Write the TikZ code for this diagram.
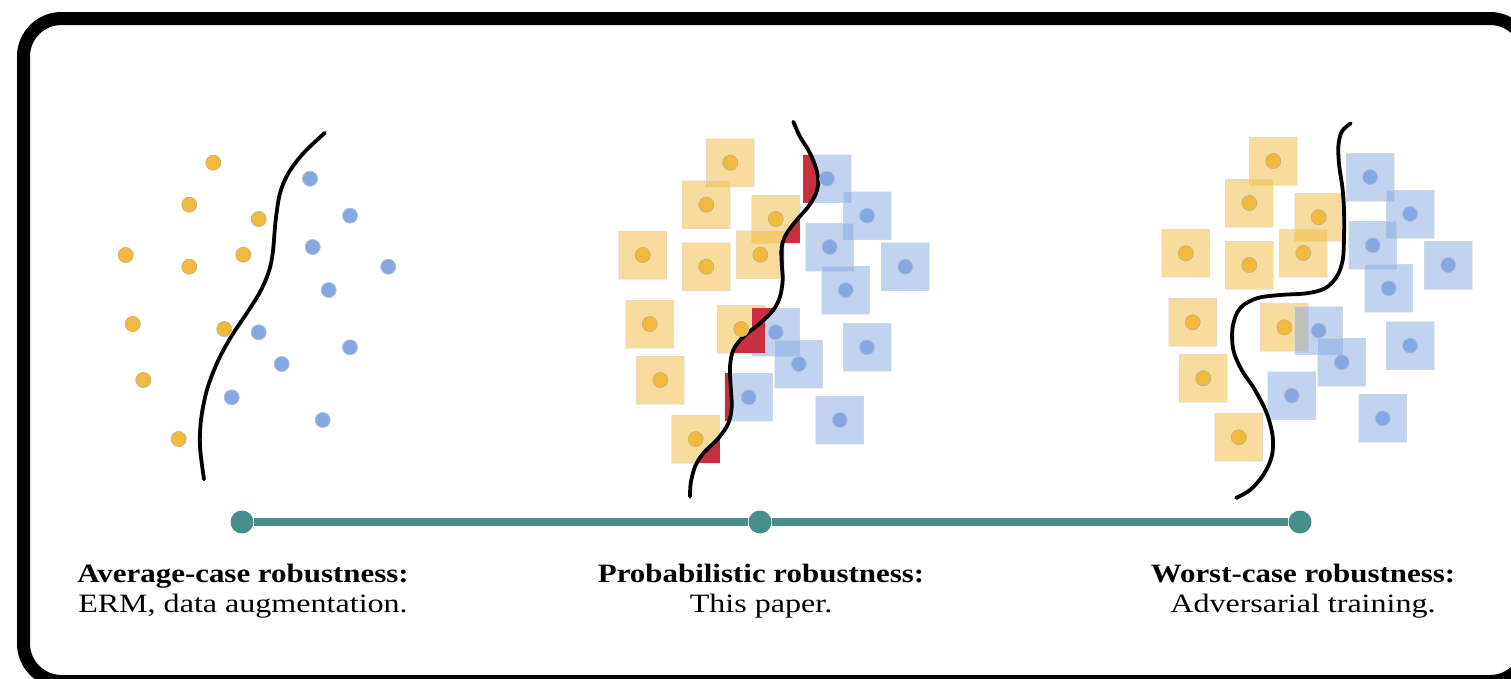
\documentclass[tikz,border=0pt]{standalone}
\usepackage{fontspec}
\setmainfont{Liberation Serif}
\newfontfamily\headfont{Liberation Serif}[FakeStretch=1.167]
\newfontfamily\bodyfont{Liberation Serif}[FakeStretch=1.21]
\definecolor{dotorange}{RGB}{242,186,60}
\definecolor{dotblue}{RGB}{134,168,226}
\definecolor{rimorange}{RGB}{205,178,125}
\definecolor{rimblue}{RGB}{175,190,215}
\definecolor{advred}{RGB}{200,48,64}
\definecolor{tealline}{RGB}{69,142,138}

% sample points of the two classes (first panel, pixel-like units)
\newcommand\orangepts{213.3/162.7, 189.3/204.7, 258.7/219, 125.7/255, 243.3/254.7,
  189.3/266.7, 132.7/324, 224.3/329, 143.3/380, 178.7/439}
\newcommand\bluepts{310/178.7, 350/215.7, 312.7/247, 388.3/266.7, 328.7/290,
  258.7/332.3, 350/347.3, 281.7/364, 231.7/397.3, 322.7/420}

% decision boundaries
\newcommand\curveA{plot[smooth,tension=0.55] coordinates {(325,132.7) (303.3,153.3)
  (288.3,173.3) (280,193.3) (275.7,220) (272.7,253.3) (268.3,273.3) (259.3,293.3)
  (246.7,313.3) (233.3,333.3) (221.7,353.3) (212.7,373.3) (206,393.3) (201,420)
  (200,446.7) (204,479.3)}}
\newcommand\curveB{plot[smooth,tension=0.55] coordinates {(793.3,121.7) (800,136.7)
  (808.3,150) (815,165) (818.3,180) (816,193.3) (808.3,206.7) (796.7,220)
  (786.7,233.3) (781.7,246.7) (781.7,263.3) (782.7,280) (780,296.7) (773.3,310)
  (760,323.3) (743.3,336.7) (733.3,350) (730,366.7) (730.7,386.7) (731.7,406.7)
  (728.3,423.3) (718.3,438.3) (703.3,453.3) (695,466.7) (690.7,483.3) (690,496.7)}}
\newcommand\curveC{plot[smooth,tension=0.55] coordinates {(1350.7,123.3) (1341.7,131.7)
  (1338.3,146.7) (1339.3,166.7) (1342.3,186.7) (1344,210) (1344,236.7) (1342.7,260)
  (1336.7,276.7) (1325,288.3) (1306.7,293.3) (1280,295) (1256.7,298.3) (1240,308.3)
  (1232.7,326.7) (1233.3,350) (1241.7,370) (1255,390) (1266.7,413.3) (1272.7,436.7)
  (1271.7,456.7) (1263.3,475) (1250,490) (1236,498)}}

\begin{document}
\begin{tikzpicture}[x=1pt,y=-1pt,
  frame/.style={draw=black,line width=13pt,rounded corners=38pt},
  boundary/.style={draw=black,line width=3.8pt,line cap=round},
  ptorange/.style={fill=dotorange,draw=rimorange,line width=0.8pt},
  ptblue/.style={fill=dotblue,draw=rimblue,line width=0.8pt},
  boxorange/.style={fill=dotorange,fill opacity=0.5,draw=black!15,draw opacity=0.5,line width=0.8pt},
  boxblue/.style={fill=dotblue,fill opacity=0.5,draw=black!15,draw opacity=0.5,line width=0.8pt},
  tdot/.style={circle,fill=tealline,inner sep=0pt,minimum size=23pt},
  tline/.style={draw=tealline,line width=7.5pt},
  headtext/.style={anchor=base,inner sep=0pt,font=\headfont\fontsize{26.5}{30}\selectfont\bfseries},
  subtext/.style={anchor=base,inner sep=0pt,font=\bodyfont\fontsize{26.5}{30}\selectfont}]
\useasboundingbox (0,0) rectangle (1511,678);
\clip (0,0) rectangle (1511,678);

% outer rounded frame
\path[frame] (23.5,18.5) rectangle (1528,681.5);

% ---------- panel 1: plain points ----------
\path[boundary] \curveA;
\foreach \x/\y in \orangepts { \path[ptorange] (\x,\y) circle[radius=7.5pt]; }
\foreach \x/\y in \bluepts { \path[ptblue] (\x,\y) circle[radius=7.5pt]; }

% ---------- panel 2: boxes, violations in red ----------
\begin{scope}[shift={(517,0)}]
  \foreach \x/\y in \orangepts { \path[boxorange] (\x-24,\y-24) rectangle (\x+24,\y+24); }
  \foreach \x/\y in \bluepts { \path[boxblue] (\x-24,\y-24) rectangle (\x+24,\y+24); }
\end{scope}
\begin{scope}
  \clip \curveB -- (1000,496.7) -- (1000,121.7) -- cycle;
  \begin{scope}[shift={(517,0)}]
    \foreach \x/\y in \orangepts { \fill[advred] (\x-24,\y-24) rectangle (\x+24,\y+24); }
  \end{scope}
\end{scope}
\begin{scope}
  \clip \curveB -- (600,496.7) -- (600,121.7) -- cycle;
  \begin{scope}[shift={(517,0)}]
    \foreach \x/\y in \bluepts { \fill[advred] (\x-24,\y-24) rectangle (\x+24,\y+24); }
  \end{scope}
\end{scope}
\path[boundary] \curveB;
\begin{scope}[shift={(517,0)}]
  \foreach \x/\y in \orangepts { \path[ptorange] (\x,\y) circle[radius=7.5pt]; }
  \foreach \x/\y in \bluepts { \path[ptblue] (\x,\y) circle[radius=7.5pt]; }
\end{scope}

% ---------- panel 3: boxes, boundary avoids them ----------
\begin{scope}[shift={(1060,-1.7)}]
  \foreach \x/\y in \orangepts { \path[boxorange] (\x-24,\y-24) rectangle (\x+24,\y+24); }
  \foreach \x/\y in \bluepts { \path[boxblue] (\x-24,\y-24) rectangle (\x+24,\y+24); }
\end{scope}
\path[boundary] \curveC;
\begin{scope}[shift={(1060,-1.7)}]
  \foreach \x/\y in \orangepts { \path[ptorange] (\x,\y) circle[radius=7.5pt]; }
  \foreach \x/\y in \bluepts { \path[ptblue] (\x,\y) circle[radius=7.5pt]; }
\end{scope}

% ---------- timeline ----------
\node[tdot] (t1) at (242,522) {};
\node[tdot] (t2) at (760,522) {};
\node[tdot] (t3) at (1300,522) {};
\draw[tline] (t1) -- (t2) -- (t3);

\node[headtext] (h1) at (243,582) {Average-case robustness:};
\node[subtext]  (s1) at (243,612) {ERM, data augmentation.};
\node[headtext] (h2) at (761,582) {Probabilistic robustness:};
\node[subtext]  (s2) at (761,612) {This paper.};
\node[headtext] (h3) at (1303,582) {Worst-case robustness:};
\node[subtext]  (s3) at (1303,612) {Adversarial training.};
\end{tikzpicture}
\end{document}
